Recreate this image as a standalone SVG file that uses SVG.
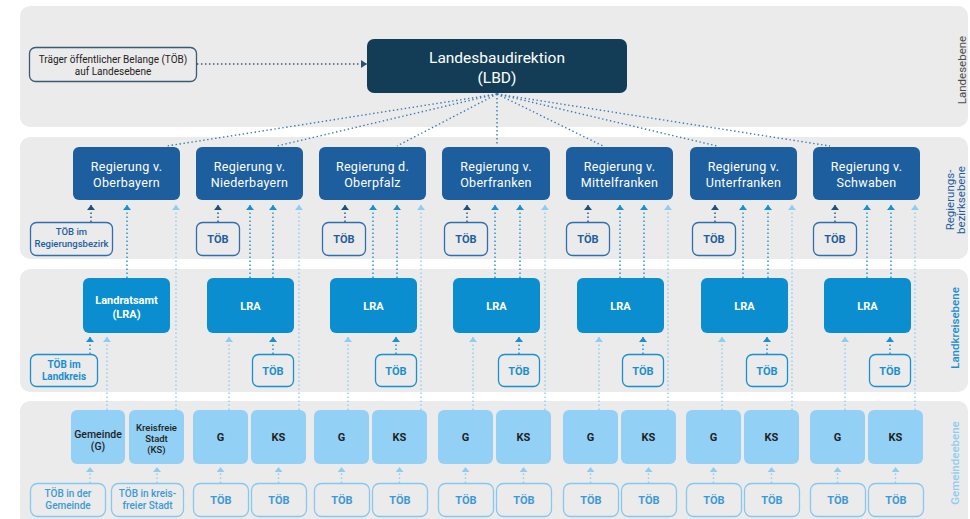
<svg xmlns="http://www.w3.org/2000/svg" width="970" height="519" viewBox="0 0 970 519">
<defs>
<style>
text{font-family:Roboto,"Liberation Sans",sans-serif;text-anchor:middle}
.panel{fill:#ebebeb}
.lbd{fill:#133d56}
.reg{fill:#1d5e9e}
.lra{fill:#0a8ecf}
.gem{fill:#92d1f5}
.tland{fill:none;stroke:#3b5a75;stroke-width:1.3}
.treg{fill:none;stroke:#2f6faf;stroke-width:1.3}
.tlk{fill:none;stroke:#1a8fcf;stroke-width:1.3}
.tgem{fill:none;stroke:#86c8ef;stroke-width:1.3}
.wt{fill:#fff}
.t-lbd{font-size:15.5px}
.t-reg{font-size:12.5px;font-weight:400;letter-spacing:0.3px}
.t-lra{font-size:11px;font-weight:700}
.t-gem{font-size:10.5px;font-weight:500;fill:#222}
.t-gem2{font-size:9.5px;font-weight:500;fill:#222}
.t-gem1{font-size:11px;font-weight:700;fill:#222}
.t-tr{font-size:11px;font-weight:700;fill:#1d5e9e}
.t-tr2{font-size:9.5px;font-weight:500;fill:#1d5e9e}
.t-tl{font-size:11px;font-weight:700;fill:#1a8fcf}
.t-tl2{font-size:10px;font-weight:700;fill:#1a8fcf}
.t-tg{font-size:11px;font-weight:700;fill:#3a9ad8}
.t-tg2{font-size:10px;font-weight:500;fill:#3a9ad8}
.t-land{font-size:10px;fill:#222}
.side{font-size:11.5px}
.c{fill:none;stroke-width:1.4;stroke-dasharray:1.4 2.6}
.cd{stroke:#1f4e7e;marker-end:url(#md)}
.cm{stroke:#1a8fcf;marker-end:url(#mm)}
.cl{stroke:#8dcdf2;marker-end:url(#ml)}
.cb{stroke:#3b78b4}
.ck{stroke:#2c5070;marker-end:url(#mk)}
</style>
<marker id="md" viewBox="-5 -4 5 8" refX="0" refY="0" markerWidth="5" markerHeight="8" markerUnits="userSpaceOnUse" orient="auto"><path d="M-5,-4L0,0L-5,4Z" fill="#1f4e7e"/></marker>
<marker id="mm" viewBox="-5 -4 5 8" refX="0" refY="0" markerWidth="5" markerHeight="8" markerUnits="userSpaceOnUse" orient="auto"><path d="M-5,-4L0,0L-5,4Z" fill="#1a8fcf"/></marker>
<marker id="ml" viewBox="-5 -4 5 8" refX="0" refY="0" markerWidth="5" markerHeight="8" markerUnits="userSpaceOnUse" orient="auto"><path d="M-5,-4L0,0L-5,4Z" fill="#8dcdf2"/></marker>
<marker id="mk" viewBox="-6 -4 6 8" refX="0" refY="0" markerWidth="6" markerHeight="8" markerUnits="userSpaceOnUse" orient="auto"><path d="M-6,-4L0,0L-6,4Z" fill="#2c5070"/></marker>
</defs>

<g id="panels">
<rect class="panel" x="20" y="6" width="948" height="121" rx="10"/>
<rect class="panel" x="20" y="137" width="948" height="122" rx="10"/>
<rect class="panel" x="20" y="269" width="948" height="123" rx="10"/>
<rect class="panel" x="20" y="401" width="948" height="130" rx="10"/>
<text class="side" fill="#4d4d4d" transform="rotate(-90 966 70)" x="966" y="70">Landesebene</text>
<text class="side" fill="#1d5e9e" transform="rotate(-90 954 200)" x="954" y="200">Regierungs-</text>
<text class="side" fill="#1d5e9e" transform="rotate(-90 965 200)" x="965" y="200">bezirksebene</text>
<text class="side" fill="#1a8fcf" font-weight="500" transform="rotate(-90 959 328)" x="959" y="328">Landkreisebene</text>
<text class="side" fill="#8fcdf0" font-weight="500" transform="rotate(-90 959 463)" x="959" y="463">Gemeindeebene</text>
</g>

<g id="connectors">
<line class="c ck" x1="197" y1="64" x2="367" y2="64"/>
<line class="c cb" x1="497" y1="94" x2="167" y2="146"/>
<line class="c cb" x1="497" y1="94" x2="277" y2="146"/>
<line class="c cb" x1="497" y1="94" x2="397" y2="146"/>
<line class="c cb" x1="497" y1="94" x2="497" y2="146"/>
<line class="c cb" x1="497" y1="94" x2="603" y2="146"/>
<line class="c cb" x1="497" y1="94" x2="717" y2="146"/>
<line class="c cb" x1="497" y1="94" x2="830" y2="146"/>
<line class="c cd" x1="91" y1="222" x2="91" y2="205"/>
<line class="c cm" x1="127" y1="278" x2="127" y2="205"/>
<line class="c cl" x1="176" y1="410" x2="176" y2="205"/>
<line class="c cm" x1="90" y1="354" x2="90" y2="337"/>
<line class="c cl" x1="107" y1="410" x2="107" y2="337"/>
<line class="c cl" x1="90" y1="483" x2="90" y2="467"/>
<line class="c cl" x1="157" y1="483" x2="157" y2="467"/>
<line class="c cd" x1="218" y1="222" x2="218" y2="205"/>
<line class="c cm" x1="250" y1="278" x2="250" y2="205"/>
<line class="c cm" x1="273" y1="278" x2="273" y2="205"/>
<line class="c cl" x1="299" y1="410" x2="299" y2="205"/>
<line class="c cm" x1="273" y1="354" x2="273" y2="337"/>
<line class="c cl" x1="229" y1="410" x2="229" y2="337"/>
<line class="c cl" x1="220.5" y1="483" x2="220.5" y2="467"/>
<line class="c cl" x1="278.5" y1="483" x2="278.5" y2="467"/>
<line class="c cd" x1="345" y1="222" x2="345" y2="205"/>
<line class="c cm" x1="373" y1="278" x2="373" y2="205"/>
<line class="c cm" x1="397" y1="278" x2="397" y2="205"/>
<line class="c cl" x1="421" y1="410" x2="421" y2="205"/>
<line class="c cm" x1="396" y1="354" x2="396" y2="337"/>
<line class="c cl" x1="348" y1="410" x2="348" y2="337"/>
<line class="c cl" x1="341.5" y1="483" x2="341.5" y2="467"/>
<line class="c cl" x1="399.5" y1="483" x2="399.5" y2="467"/>
<line class="c cd" x1="467" y1="222" x2="467" y2="205"/>
<line class="c cm" x1="495" y1="278" x2="495" y2="205"/>
<line class="c cm" x1="520" y1="278" x2="520" y2="205"/>
<line class="c cl" x1="545" y1="410" x2="545" y2="205"/>
<line class="c cm" x1="519" y1="354" x2="519" y2="337"/>
<line class="c cl" x1="473" y1="410" x2="473" y2="337"/>
<line class="c cl" x1="465.5" y1="483" x2="465.5" y2="467"/>
<line class="c cl" x1="523.5" y1="483" x2="523.5" y2="467"/>
<line class="c cd" x1="588" y1="222" x2="588" y2="205"/>
<line class="c cm" x1="620" y1="278" x2="620" y2="205"/>
<line class="c cm" x1="644" y1="278" x2="644" y2="205"/>
<line class="c cl" x1="668" y1="410" x2="668" y2="205"/>
<line class="c cm" x1="643" y1="354" x2="643" y2="337"/>
<line class="c cl" x1="599" y1="410" x2="599" y2="337"/>
<line class="c cl" x1="590.5" y1="483" x2="590.5" y2="467"/>
<line class="c cl" x1="648.5" y1="483" x2="648.5" y2="467"/>
<line class="c cd" x1="715" y1="222" x2="715" y2="205"/>
<line class="c cm" x1="743" y1="278" x2="743" y2="205"/>
<line class="c cm" x1="768" y1="278" x2="768" y2="205"/>
<line class="c cl" x1="792" y1="410" x2="792" y2="205"/>
<line class="c cm" x1="767" y1="354" x2="767" y2="337"/>
<line class="c cl" x1="722" y1="410" x2="722" y2="337"/>
<line class="c cl" x1="713.5" y1="483" x2="713.5" y2="467"/>
<line class="c cl" x1="771.5" y1="483" x2="771.5" y2="467"/>
<line class="c cd" x1="835" y1="222" x2="835" y2="205"/>
<line class="c cm" x1="867" y1="278" x2="867" y2="205"/>
<line class="c cm" x1="891" y1="278" x2="891" y2="205"/>
<line class="c cl" x1="915" y1="410" x2="915" y2="205"/>
<line class="c cm" x1="890" y1="354" x2="890" y2="337"/>
<line class="c cl" x1="845" y1="410" x2="845" y2="337"/>
<line class="c cl" x1="837.5" y1="483" x2="837.5" y2="467"/>
<line class="c cl" x1="895.5" y1="483" x2="895.5" y2="467"/>
</g>

<g id="toeb-land"><rect class="tland" x="29.5" y="47.5" width="167" height="34" rx="6"/><text class="t-land" x="113" y="63">Träger öffentlicher Belange (TÖB)</text><text class="t-land" x="113" y="74.5">auf Landesebene</text></g>
<g id="lbd"><rect class="lbd" x="367" y="39" width="260" height="54" rx="7"/><text class="wt t-lbd" x="497" y="63">Landesbaudirektion</text><text class="wt t-lbd" x="497" y="83">(LBD)</text></g>

<g id="reg-oberbayern"><rect class="reg" x="73" y="147" width="107" height="53" rx="6"/><text class="wt t-reg" x="126.5" y="171">Regierung v.</text><text class="wt t-reg" x="126.5" y="187">Oberbayern</text></g>
<g id="reg-niederbayern"><rect class="reg" x="196" y="147" width="107" height="53" rx="6"/><text class="wt t-reg" x="249.5" y="171">Regierung v.</text><text class="wt t-reg" x="249.5" y="187">Niederbayern</text></g>
<g id="reg-oberpfalz"><rect class="reg" x="319" y="147" width="107" height="53" rx="6"/><text class="wt t-reg" x="372.5" y="171">Regierung d.</text><text class="wt t-reg" x="372.5" y="187">Oberpfalz</text></g>
<g id="reg-oberfranken"><rect class="reg" x="442" y="147" width="108" height="53" rx="6"/><text class="wt t-reg" x="496" y="171">Regierung v.</text><text class="wt t-reg" x="496" y="187">Oberfranken</text></g>
<g id="reg-mittelfranken"><rect class="reg" x="566" y="147" width="107" height="53" rx="6"/><text class="wt t-reg" x="619.5" y="171">Regierung v.</text><text class="wt t-reg" x="619.5" y="187">Mittelfranken</text></g>
<g id="reg-unterfranken"><rect class="reg" x="690" y="147" width="107" height="53" rx="6"/><text class="wt t-reg" x="743.5" y="171">Regierung v.</text><text class="wt t-reg" x="743.5" y="187">Unterfranken</text></g>
<g id="reg-schwaben"><rect class="reg" x="813" y="147" width="107" height="53" rx="6"/><text class="wt t-reg" x="866.5" y="171">Regierung v.</text><text class="wt t-reg" x="866.5" y="187">Schwaben</text></g>

<g id="toeb-reg-1"><rect class="treg" x="30.5" y="222.5" width="82" height="33" rx="6"/><text class="t-tr2" x="71.5" y="235">TÖB im</text><text class="t-tr2" x="71.5" y="247">Regierungsbezirk</text></g>
<g id="toeb-reg-2"><rect class="treg" x="196.5" y="222.5" width="43" height="33" rx="6"/><text class="t-tr" x="218" y="243">TÖB</text></g>
<g id="toeb-reg-3"><rect class="treg" x="322.5" y="222.5" width="43" height="33" rx="6"/><text class="t-tr" x="344" y="243">TÖB</text></g>
<g id="toeb-reg-4"><rect class="treg" x="444.5" y="222.5" width="43" height="33" rx="6"/><text class="t-tr" x="466" y="243">TÖB</text></g>
<g id="toeb-reg-5"><rect class="treg" x="566.5" y="222.5" width="43" height="33" rx="6"/><text class="t-tr" x="588" y="243">TÖB</text></g>
<g id="toeb-reg-6"><rect class="treg" x="692.5" y="222.5" width="43" height="33" rx="6"/><text class="t-tr" x="714" y="243">TÖB</text></g>
<g id="toeb-reg-7"><rect class="treg" x="813.5" y="222.5" width="43" height="33" rx="6"/><text class="t-tr" x="835" y="243">TÖB</text></g>

<g id="lra-1"><rect class="lra" x="83" y="278" width="87" height="55" rx="6"/><text class="wt t-lra" x="126.5" y="304">Landratsamt</text><text class="wt t-lra" x="126.5" y="318">(LRA)</text></g>
<g id="lra-2"><rect class="lra" x="207" y="278" width="87" height="55" rx="6"/><text class="wt t-lra" x="250.5" y="309.5">LRA</text></g>
<g id="lra-3"><rect class="lra" x="330" y="278" width="87" height="55" rx="6"/><text class="wt t-lra" x="373.5" y="309.5">LRA</text></g>
<g id="lra-4"><rect class="lra" x="453" y="278" width="87" height="55" rx="6"/><text class="wt t-lra" x="496.5" y="309.5">LRA</text></g>
<g id="lra-5"><rect class="lra" x="577" y="278" width="87" height="55" rx="6"/><text class="wt t-lra" x="620.5" y="309.5">LRA</text></g>
<g id="lra-6"><rect class="lra" x="701" y="278" width="87" height="55" rx="6"/><text class="wt t-lra" x="744.5" y="309.5">LRA</text></g>
<g id="lra-7"><rect class="lra" x="824" y="278" width="87" height="55" rx="6"/><text class="wt t-lra" x="867.5" y="309.5">LRA</text></g>

<g id="toeb-lk-1"><rect class="tlk" x="30.5" y="354.5" width="67" height="32" rx="6"/><text class="t-tl2" x="64" y="368">TÖB im</text><text class="t-tl2" x="64" y="380">Landkreis</text></g>
<g id="toeb-lk-2"><rect class="tlk" x="252.5" y="354.5" width="41" height="32" rx="6"/><text class="t-tl" x="273" y="374.5">TÖB</text></g>
<g id="toeb-lk-3"><rect class="tlk" x="375.5" y="354.5" width="41" height="32" rx="6"/><text class="t-tl" x="396" y="374.5">TÖB</text></g>
<g id="toeb-lk-4"><rect class="tlk" x="498.5" y="354.5" width="41" height="32" rx="6"/><text class="t-tl" x="519" y="374.5">TÖB</text></g>
<g id="toeb-lk-5"><rect class="tlk" x="622.5" y="354.5" width="41" height="32" rx="6"/><text class="t-tl" x="643" y="374.5">TÖB</text></g>
<g id="toeb-lk-6"><rect class="tlk" x="746.5" y="354.5" width="41" height="32" rx="6"/><text class="t-tl" x="767" y="374.5">TÖB</text></g>
<g id="toeb-lk-7"><rect class="tlk" x="869.5" y="354.5" width="41" height="32" rx="6"/><text class="t-tl" x="890" y="374.5">TÖB</text></g>

<g id="gem-1"><rect class="gem" x="71" y="410" width="54" height="54" rx="6"/><text class="t-gem" x="98" y="438">Gemeinde</text><text class="t-gem" x="98" y="450">(G)</text></g>
<g id="ks-1"><rect class="gem" x="129" y="410" width="55" height="54" rx="6"/><text class="t-gem2" x="156.5" y="430.5">Kreisfreie</text><text class="t-gem2" x="156.5" y="441.5">Stadt</text><text class="t-gem2" x="156.5" y="452.5">(KS)</text></g>
<g id="gem-2"><rect class="gem" x="193" y="410" width="55" height="54" rx="6"/><text class="t-gem1" x="220.5" y="441">G</text></g>
<g id="ks-2"><rect class="gem" x="251" y="410" width="55" height="54" rx="6"/><text class="t-gem1" x="278.5" y="441">KS</text></g>
<g id="gem-3"><rect class="gem" x="314" y="410" width="55" height="54" rx="6"/><text class="t-gem1" x="341.5" y="441">G</text></g>
<g id="ks-3"><rect class="gem" x="372" y="410" width="55" height="54" rx="6"/><text class="t-gem1" x="399.5" y="441">KS</text></g>
<g id="gem-4"><rect class="gem" x="438" y="410" width="55" height="54" rx="6"/><text class="t-gem1" x="465.5" y="441">G</text></g>
<g id="ks-4"><rect class="gem" x="496" y="410" width="55" height="54" rx="6"/><text class="t-gem1" x="523.5" y="441">KS</text></g>
<g id="gem-5"><rect class="gem" x="563" y="410" width="55" height="54" rx="6"/><text class="t-gem1" x="590.5" y="441">G</text></g>
<g id="ks-5"><rect class="gem" x="621" y="410" width="55" height="54" rx="6"/><text class="t-gem1" x="648.5" y="441">KS</text></g>
<g id="gem-6"><rect class="gem" x="686" y="410" width="55" height="54" rx="6"/><text class="t-gem1" x="713.5" y="441">G</text></g>
<g id="ks-6"><rect class="gem" x="744" y="410" width="55" height="54" rx="6"/><text class="t-gem1" x="771.5" y="441">KS</text></g>
<g id="gem-7"><rect class="gem" x="810" y="410" width="55" height="54" rx="6"/><text class="t-gem1" x="837.5" y="441">G</text></g>
<g id="ks-7"><rect class="gem" x="868" y="410" width="55" height="54" rx="6"/><text class="t-gem1" x="895.5" y="441">KS</text></g>

<g id="toeb-gem-1"><rect class="tgem" x="30.5" y="483.5" width="75" height="33" rx="7"/><text class="t-tg2" x="68" y="497">TÖB in der</text><text class="t-tg2" x="68" y="509">Gemeinde</text></g>
<g id="toeb-ks-1"><rect class="tgem" x="111.5" y="483.5" width="72" height="33" rx="7"/><text class="t-tg2" x="147.5" y="497">TÖB in kreis-</text><text class="t-tg2" x="147.5" y="509">freier Stadt</text></g>
<g id="toeb-gem-2"><rect class="tgem" x="193.5" y="483.5" width="55" height="33" rx="7"/><text class="t-tg" x="221" y="503.5">TÖB</text></g>
<g id="toeb-ks-2"><rect class="tgem" x="251.5" y="483.5" width="55" height="33" rx="7"/><text class="t-tg" x="279" y="503.5">TÖB</text></g>
<g id="toeb-gem-3"><rect class="tgem" x="314.5" y="483.5" width="55" height="33" rx="7"/><text class="t-tg" x="342" y="503.5">TÖB</text></g>
<g id="toeb-ks-3"><rect class="tgem" x="372.5" y="483.5" width="55" height="33" rx="7"/><text class="t-tg" x="400" y="503.5">TÖB</text></g>
<g id="toeb-gem-4"><rect class="tgem" x="438.5" y="483.5" width="55" height="33" rx="7"/><text class="t-tg" x="466" y="503.5">TÖB</text></g>
<g id="toeb-ks-4"><rect class="tgem" x="496.5" y="483.5" width="55" height="33" rx="7"/><text class="t-tg" x="524" y="503.5">TÖB</text></g>
<g id="toeb-gem-5"><rect class="tgem" x="563.5" y="483.5" width="55" height="33" rx="7"/><text class="t-tg" x="591" y="503.5">TÖB</text></g>
<g id="toeb-ks-5"><rect class="tgem" x="621.5" y="483.5" width="55" height="33" rx="7"/><text class="t-tg" x="649" y="503.5">TÖB</text></g>
<g id="toeb-gem-6"><rect class="tgem" x="686.5" y="483.5" width="55" height="33" rx="7"/><text class="t-tg" x="714" y="503.5">TÖB</text></g>
<g id="toeb-ks-6"><rect class="tgem" x="744.5" y="483.5" width="55" height="33" rx="7"/><text class="t-tg" x="772" y="503.5">TÖB</text></g>
<g id="toeb-gem-7"><rect class="tgem" x="810.5" y="483.5" width="55" height="33" rx="7"/><text class="t-tg" x="838" y="503.5">TÖB</text></g>
<g id="toeb-ks-7"><rect class="tgem" x="868.5" y="483.5" width="55" height="33" rx="7"/><text class="t-tg" x="896" y="503.5">TÖB</text></g>
</svg>
